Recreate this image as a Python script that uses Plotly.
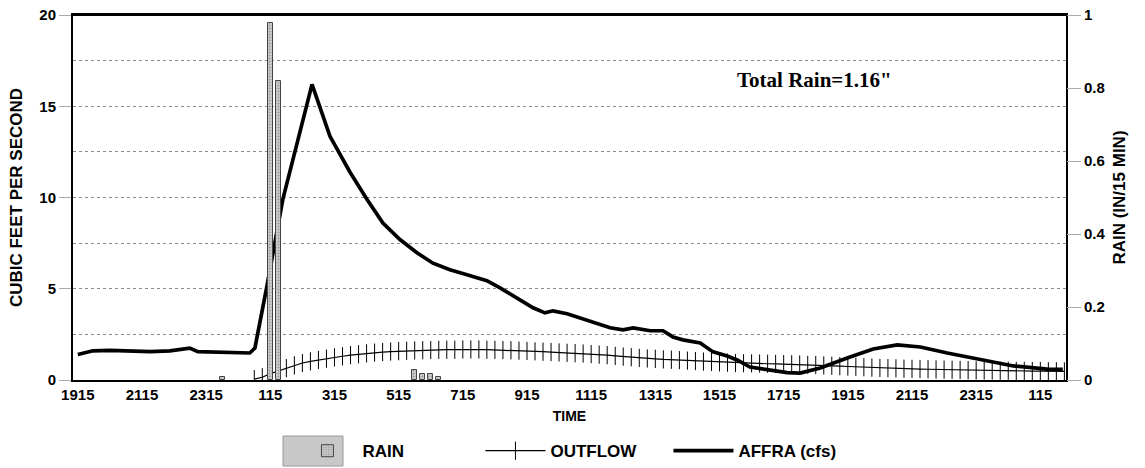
import plotly.graph_objects as go

# ---- data (hours after 19:15) ----
tick_hours = [0, 2, 4, 6, 8, 10, 12, 14, 16, 18, 20, 22, 24, 26, 28, 30]
tick_labels = ["1915", "2115", "2315", "115", "315", "515", "715", "915",
               "1115", "1315", "1515", "1715", "1915", "2115", "2315", "115"]

rain_hours = [4.5, 6.0, 6.25, 10.5, 10.75, 11.0, 11.25]
rain_values = [0.008, 0.978, 0.82, 0.028, 0.017, 0.017, 0.008]

affra_hours = [0.0, 0.47, 1.0, 2.25, 2.87, 3.49, 3.74, 4.74, 5.36, 5.52, 5.89, 6.39, 6.83,
               7.3, 7.86, 8.48, 9.01, 9.51, 10.04, 10.57, 11.07, 11.6, 12.13, 12.75,
               13.16, 13.69, 14.19, 14.56, 14.81, 15.25, 15.65, 16.28, 16.59, 16.99,
               17.31, 17.84, 18.24, 18.55, 18.86, 19.4, 19.8, 20.24, 20.55, 20.95,
               21.48, 22.11, 22.51, 23.14, 23.98, 24.79, 25.54, 26.26, 27.1, 28.13,
               29.16, 30.22, 30.7]
affra_cfs = [1.4, 1.6, 1.62, 1.55, 1.6, 1.75, 1.55, 1.52, 1.48, 1.75, 5.1, 9.9, 13.0,
             16.2, 13.35, 11.4, 9.9, 8.6, 7.7, 6.97, 6.4, 6.04, 5.77, 5.44,
             5.05, 4.5, 3.96, 3.68, 3.79, 3.63, 3.4, 3.08, 2.86, 2.75,
             2.86, 2.7, 2.7, 2.36, 2.2, 2.03, 1.54, 1.32, 1.1, 0.71,
             0.55, 0.4, 0.38, 0.66, 1.2, 1.7, 1.92, 1.81, 1.48, 1.1,
             0.77, 0.6, 0.58]

outflow_start_hour = 5.5
outflow_step_hours = 0.25
outflow_cfs = [0.05, 0.15, 0.35, 0.5, 0.65, 0.8, 0.93, 1.02, 1.1, 1.17,
               1.24, 1.3, 1.36, 1.41, 1.46, 1.5, 1.53, 1.56, 1.58, 1.6,
               1.62, 1.63, 1.64, 1.65, 1.66, 1.66, 1.67, 1.67, 1.67, 1.66,
               1.65, 1.64, 1.63, 1.61, 1.59, 1.57, 1.55, 1.53, 1.51, 1.49,
               1.47, 1.45, 1.42, 1.39, 1.36, 1.32, 1.28, 1.25, 1.21, 1.18,
               1.16, 1.13, 1.11, 1.09, 1.06, 1.04, 1.01, 0.99, 0.97, 0.95,
               0.93, 0.92, 0.91, 0.9, 0.89, 0.88, 0.87, 0.86, 0.85, 0.83,
               0.82, 0.8, 0.78, 0.76, 0.74, 0.72, 0.7, 0.68, 0.66, 0.65,
               0.64, 0.62, 0.61, 0.6, 0.59, 0.58, 0.57, 0.56, 0.55, 0.54,
               0.53, 0.52, 0.52, 0.51, 0.51, 0.5, 0.5, 0.49, 0.49, 0.48,
               0.48, 0.47]
outflow_hours = [outflow_start_hour + outflow_step_hours * i for i in range(len(outflow_cfs))]

FONT = "Liberation Sans, Arial, sans-serif"
GRID = "#8a8a8a"

fig = go.Figure()

fig.add_trace(go.Bar(
    x=rain_hours, y=rain_values, name="RAIN", yaxis="y2", width=0.15,
    marker=dict(color="#c4c4c4", line=dict(color="#444444", width=1),
                pattern=dict(shape=".", fgcolor="#666666", bgcolor="#d0d0d0", size=3, solidity=0.4)),
))
fig.add_trace(go.Scatter(
    x=outflow_hours, y=outflow_cfs, name="OUTFLOW", mode="lines+markers",
    line=dict(color="black", width=1.2),
    marker=dict(symbol="line-ns-open", size=13, line=dict(color="black", width=1)),
))
fig.add_trace(go.Scatter(
    x=affra_hours, y=affra_cfs, name="AFFRA (cfs)", mode="lines",
    line=dict(color="black", width=3.7),
))

fig.update_layout(
    width=1145, height=468,
    margin=dict(l=73, r=79, t=15, b=88, autoexpand=False),
    paper_bgcolor="white", plot_bgcolor="white",
    font=dict(family=FONT, color="black"),
    showlegend=True,
    bargap=0,
    xaxis=dict(
        range=[-0.15, 30.8], tickmode="array", tickvals=tick_hours, ticktext=tick_labels,
        showgrid=False, zeroline=False, showline=True, linecolor="black", linewidth=2,
        mirror="all", ticks="", tickfont=dict(size=15, weight="bold"), automargin=False,
        title=dict(text="TIME", font=dict(size=14, weight="bold"), standoff=9),
    ),
    yaxis=dict(
        range=[0, 20], dtick=5, showgrid=True, gridcolor=GRID, griddash="dot", gridwidth=1,
        minor=dict(dtick=2.5, showgrid=True, gridcolor=GRID, griddash="dot", gridwidth=1),
        zeroline=False, showline=True, linecolor="black", linewidth=2, mirror=True,
        ticks="outside", ticklen=12, tickcolor="#aaaaaa", tickwidth=1, automargin=False,
        tickfont=dict(size=15, weight="bold"),
        title=dict(text="CUBIC FEET PER SECOND", font=dict(size=17, weight="bold"), standoff=12),
    ),
    yaxis2=dict(
        range=[0, 1], dtick=0.2, overlaying="y", side="right", showgrid=False, zeroline=False,
        showline=False, ticks="outside", ticklen=14, tickcolor="#aaaaaa", tickwidth=1,
        automargin=False, tickfont=dict(size=15, weight="bold"),
        title=dict(text="RAIN (IN/15 MIN)", font=dict(size=17, weight="bold"), standoff=8),
    ),
    legend=dict(
        orientation="h", x=0.221, xanchor="left", y=-0.195, yanchor="middle",
        font=dict(size=17, weight="bold"), itemwidth=60, traceorder="normal",
        entrywidth=113, entrywidthmode="pixels", bgcolor="rgba(0,0,0,0)",
    ),
    shapes=[
        # top border of the plot frame
        dict(type="line", xref="paper", yref="paper", x0=0, x1=1, y0=1, y1=1,
             line=dict(color="black", width=2), layer="above"),
        # enlarged legend swatch for RAIN (decoration behind the legend symbol)
        dict(type="rect", xref="paper", yref="paper", x0=0.2115, x1=0.2719, y0=-0.2356, y1=-0.1534,
             fillcolor="#c8c8c8", line=dict(color="#999999", width=1), layer="above"),
    ],
    annotations=[dict(
        text='Total Rain=1.16"', xref="paper", yref="paper", x=0.747, y=0.822,
        xanchor="center", yanchor="middle",
        showarrow=False, font=dict(family="Liberation Serif, Times New Roman, serif", size=21,
                                   weight="bold", color="black"),
    )],
)

fig.write_html("out.html", config={"displayModeBar": False},
               post_script="document.body.style.margin='0';")
